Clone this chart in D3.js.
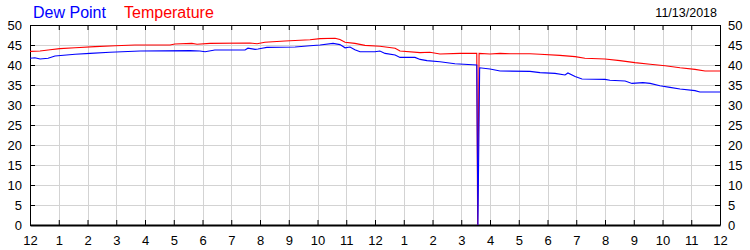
<!DOCTYPE html>
<html>
<head>
<meta charset="utf-8">
<script src="https://cdn.jsdelivr.net/npm/d3@7"></script>
<style>
  body { margin: 0; background: #fff; }
  text { font-family: Arial, 'Liberation Sans', sans-serif; }
</style>
</head>
<body>
<div id="chart"></div>
<script>
/* =========================================================
   DATA (hours since midnight, deg F)
========================================================= */
const tempHours = [0, 0.35, 0.70, 1.04, 1.57, 2.26, 2.96, 3.65, 4.87, 5.04, 5.63, 5.81, 6.26,
  7.65, 7.90, 8.17, 8.87, 9.74, 10.09, 10.61, 10.78, 10.96, 11.30, 11.65, 12.17, 12.70,
  12.87, 13.57, 13.91, 14.26, 14.96, 15.54, 15.57, 15.62, 16.00, 16.35, 16.70, 17.39,
  17.74, 18.43, 18.96, 19.30, 20.00, 20.52, 21.04, 21.57, 22.09, 22.61, 23.13, 23.48, 24];
const tempValues = [43.4, 43.5, 43.8, 44.1, 44.3, 44.6, 44.8, 45.0, 45.0, 45.25, 45.4, 45.2, 45.4,
  45.5, 45.3, 45.7, 46.0, 46.3, 46.6, 46.7, 46.4, 45.7, 45.4, 44.9, 44.7, 44.2,
  43.5, 43.1, 43.2, 42.75, 42.9, 42.9, 0, 42.9, 42.75, 42.9, 42.8, 42.8,
  42.7, 42.4, 42.1, 41.7, 41.5, 41.1, 40.6, 40.2, 39.8, 39.3, 38.9, 38.5, 38.5];

const dewHours = [0, 0.17, 0.35, 0.63, 0.87, 1.57, 2.09, 2.78, 3.83, 5.57, 5.91, 6.09, 6.43,
  7.48, 7.58, 7.83, 7.93, 8.07, 8.24, 9.22, 9.74, 10.09, 10.54, 10.78, 10.96, 11.13,
  11.30, 11.48, 12.00, 12.17, 12.35, 12.70, 12.87, 13.39, 13.57, 13.81, 14.26, 14.78,
  15.54, 15.58, 15.64, 16.00, 16.35, 17.39, 17.74, 18.26, 18.61, 18.71, 18.96, 19.20,
  20.00, 20.17, 20.70, 20.94, 21.32, 21.57, 21.91, 22.26, 22.61, 23.13, 23.30, 24];
const dewValues = [41.7, 41.8, 41.5, 41.7, 42.25, 42.7, 42.9, 43.2, 43.5, 43.6, 43.5, 43.3, 43.75,
  43.75, 44.2, 43.9, 44.0, 44.2, 44.4, 44.5, 44.8, 45.0, 45.4, 45.1, 44.3, 44.5,
  43.8, 43.3, 43.3, 43.5, 42.9, 42.5, 41.9, 41.9, 41.4, 41.1, 40.8, 40.3,
  40.0, 0, 39.3, 39.0, 38.5, 38.4, 38.1, 37.9, 37.5, 38.0, 37.1, 36.5,
  36.4, 36.2, 36.0, 35.4, 35.6, 35.4, 34.8, 34.4, 34.0, 33.6, 33.25, 33.25];

const hourTicks = d3.range(0, 25);
const hourLabels = ['12', '1', '2', '3', '4', '5', '6', '7', '8', '9', '10', '11',
  '12', '1', '2', '3', '4', '5', '6', '7', '8', '9', '10', '11', '12'];
const yTicks = [0, 5, 10, 15, 20, 25, 30, 35, 40, 45, 50];
const dateLabel = '11/13/2018';

/* =========================================================
   CONFIGURATION
========================================================= */
const CONFIG = {
  width: 750,
  height: 250,
  margin: { top: 25, right: 30, bottom: 25, left: 30 },
  tickLen: 5,
  gridColor: '#d3d3d3',
};

const plotW = CONFIG.width - CONFIG.margin.left - CONFIG.margin.right;
const plotH = CONFIG.height - CONFIG.margin.top - CONFIG.margin.bottom;

const svg = d3.select('#chart')
  .append('svg')
  .attr('width', CONFIG.width)
  .attr('height', CONFIG.height);

const x = d3.scaleLinear().domain([0, 24]).range([CONFIG.margin.left, CONFIG.margin.left + plotW]);
const y = d3.scaleLinear().domain([0, 50]).range([CONFIG.margin.top + plotH, CONFIG.margin.top]);

/* =========================================================
   GRID
========================================================= */
const grid = svg.append('g').attr('shape-rendering', 'crispEdges');
grid.selectAll('.vgrid').data(hourTicks.slice(1, -1)).enter().append('line')
  .attr('x1', d => Math.round(x(d)) + 0.5).attr('x2', d => Math.round(x(d)) + 0.5)
  .attr('y1', y(50)).attr('y2', y(0))
  .attr('stroke', CONFIG.gridColor);
grid.selectAll('.hgrid').data(yTicks.slice(1, -1)).enter().append('line')
  .attr('x1', x(0)).attr('x2', x(24))
  .attr('y1', d => Math.round(y(d)) + 0.5).attr('y2', d => Math.round(y(d)) + 0.5)
  .attr('stroke', CONFIG.gridColor);

/* =========================================================
   AXES (ticks point inward on all four sides)
========================================================= */
const fmtHour = (d) => hourLabels[d];

svg.append('g')
  .attr('transform', `translate(0,${y(0)})`)
  .call(d3.axisBottom(x).tickValues(hourTicks).tickFormat(fmtHour).tickSizeInner(-CONFIG.tickLen).tickSizeOuter(0).tickPadding(11))
  .call(g => g.select('.domain').attr('stroke-width', 2));

svg.append('g')
  .attr('transform', `translate(0,${y(50)})`)
  .call(d3.axisTop(x).tickValues(hourTicks).tickFormat('').tickSizeInner(-CONFIG.tickLen).tickSizeOuter(0));

svg.append('g')
  .attr('transform', `translate(${x(0)},0)`)
  .call(d3.axisLeft(y).tickValues(yTicks).tickSizeInner(-CONFIG.tickLen).tickSizeOuter(0).tickPadding(8));

svg.append('g')
  .attr('transform', `translate(${x(24)},0)`)
  .call(d3.axisRight(y).tickValues(yTicks).tickSizeInner(-CONFIG.tickLen).tickSizeOuter(0).tickPadding(8));

svg.selectAll('.tick text')
  .attr('font-size', 13)
  .attr('fill', '#000')
  .attr('font-family', 'Arial, Liberation Sans, sans-serif');
svg.selectAll('.domain, .tick line').attr('stroke', '#000');

/* =========================================================
   SERIES
========================================================= */
function seriesPoints(hours, values) {
  return hours.map((h, i) => ({ h: h, v: values[i] }));
}

const line = d3.line().x(d => x(d.h)).y(d => y(d.v));

svg.append('path')
  .datum(seriesPoints(tempHours, tempValues))
  .attr('d', line)
  .attr('fill', 'none')
  .attr('stroke', '#ff0000')
  .attr('stroke-width', 1.1);

svg.append('path')
  .datum(seriesPoints(dewHours, dewValues))
  .attr('d', line)
  .attr('fill', 'none')
  .attr('stroke', '#0000ff')
  .attr('stroke-width', 1.1);

/* =========================================================
   TITLES
========================================================= */
svg.append('text').attr('x', 33).attr('y', 18)
  .attr('font-size', 16).attr('fill', '#0000ff').text('Dew Point');
svg.append('text').attr('x', 124).attr('y', 18)
  .attr('font-size', 16).attr('fill', '#ff0000').text('Temperature');
svg.append('text').attr('x', 717).attr('y', 17)
  .attr('font-size', 12.5).attr('fill', '#000').attr('text-anchor', 'end').text(dateLabel);
</script>
</body>
</html>
